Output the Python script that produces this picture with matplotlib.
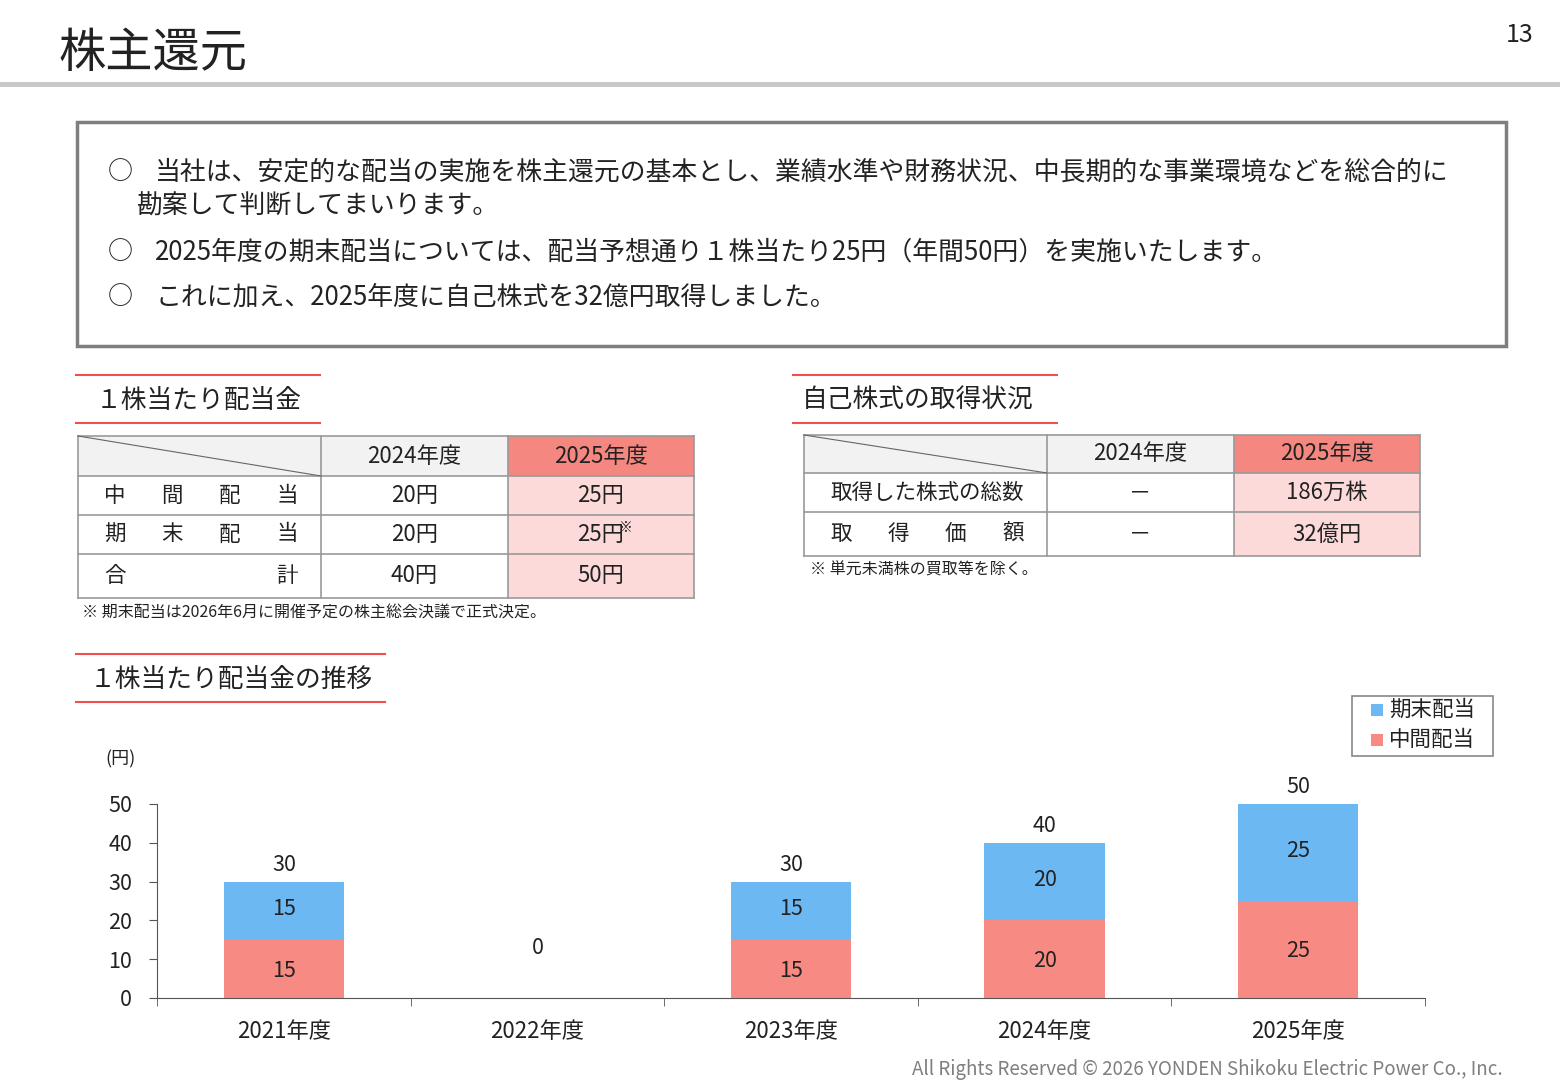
import matplotlib
matplotlib.use("Agg")
import matplotlib.pyplot as plt
from matplotlib.patches import Rectangle
from matplotlib.lines import Line2D

plt.rcParams['font.family'] = ['Noto Sans CJK JP', 'DejaVu Sans']

years = ['2021年度', '2022年度', '2023年度', '2024年度', '2025年度']
interim = [15, 0, 15, 20, 25]
final = [15, 0, 15, 20, 25]
totals = [30, 0, 30, 40, 50]
yticks = [0, 10, 20, 30, 40, 50]

W, H = 1560, 1080
fig = plt.figure(figsize=(15.6, 10.8), dpi=100)
fig.patch.set_facecolor('white')

def fx(x): return x / W
def fy(y): return 1 - y / H

def txt(x, y, s, size, ha='left', va='center', color='#222222', **kw):
    fig.text(fx(x), fy(y), s, fontsize=size, ha=ha, va=va, color=color, **kw)

def line(x0, y0, x1, y1, color='#888888', lw=1.0):
    fig.add_artist(Line2D([fx(x0), fx(x1)], [fy(y0), fy(y1)], color=color, lw=lw, transform=fig.transFigure))

def rect(x0, y0, x1, y1, fc='none', ec='none', lw=1.0):
    fig.add_artist(Rectangle((fx(x0), fy(y1)), fx(x1) - fx(x0), (y1 - y0) / H, facecolor=fc,
                             edgecolor=ec, lw=lw, transform=fig.transFigure))

# Title
txt(58, 54, '株主還元', 34)
txt(1533, 35, '13', 18, ha='right')
rect(0, 82, 1560, 87, fc='#c8c8c8')

# Box
rect(77, 122, 1506, 346, ec='#7f7f7f', lw=2.5)
txt(108, 172, '○', 18)
txt(155, 172, '当社は、安定的な配当の実施を株主還元の基本とし、業績水準や財務状況、中長期的な事業環境などを総合的に', 18.6)
txt(136, 206, '勘案して判断してまいります。', 18.6)
txt(108, 252, '○', 18)
txt(155, 252, '2025年度の期末配当については、配当予想通り１株当たり25円（年間50円）を実施いたします。', 18.6)
txt(108, 297, '○', 18)
txt(155, 297, 'これに加え、2025年度に自己株式を32億円取得しました。', 18.6)

red = '#F0504A'
def section(x0, x1, y, s, tx):
    line(x0, y - 26, x1, y - 26, color=red, lw=1.5)
    line(x0, y + 22, x1, y + 22, color=red, lw=1.5)
    txt(tx, y, s, 18.5)

section(76, 320, 401, '１株当たり配当金', 96)
section(793, 1057, 401, '自己株式の取得状況', 802)
section(76, 385, 680, '１株当たり配当金の推移', 90)

hdr_red = '#F4877F'
pink = '#FCDADA'
grey = '#F2F2F2'
def table(xs, ys, headers, rows):
    rect(xs[0], ys[0], xs[1], ys[1], fc=grey)
    rect(xs[1], ys[0], xs[2], ys[1], fc=grey)
    rect(xs[2], ys[0], xs[3], ys[1], fc=hdr_red)
    for i in range(1, len(ys) - 1):
        rect(xs[2], ys[i], xs[3], ys[i + 1], fc=pink)
    for y in ys:
        line(xs[0], y, xs[3], y, color='#999999', lw=1.2)
    for x in xs:
        line(x, ys[0], x, ys[-1], color='#999999', lw=1.2)
    line(xs[0], ys[0], xs[1], ys[1], color='#666666', lw=0.8)
    txt((xs[1] + xs[2]) / 2, (ys[0] + ys[1]) / 2, headers[0], 16, ha='center')
    txt((xs[2] + xs[3]) / 2, (ys[0] + ys[1]) / 2, headers[1], 16, ha='center')
    for i, (lab, a, b, spread) in enumerate(rows):
        yc = (ys[i + 1] + ys[i + 2]) / 2
        n = len(lab)
        if spread:
            x0, x1 = xs[0] + 37, xs[1] - 34
            for k, ch in enumerate(lab):
                txt(x0 + (x1 - x0) * k / (n - 1), yc, ch, 15.5, ha='center')
        else:
            txt(xs[0] + 26, yc, lab, 15.5)
        txt((xs[1] + xs[2]) / 2, yc, a, 16, ha='center')
        txt((xs[2] + xs[3]) / 2, yc, b, 16, ha='center')

table([78, 321, 508, 694], [436, 476, 515, 554, 598], ['2024年度', '2025年度'],
      [('中間配当', '20円', '25円', True), ('期末配当', '20円', '25円', True), ('合計', '40円', '50円', True)])
txt(619, 528, '※', 10)
txt(82, 613, '※ 期末配当は2026年6月に開催予定の株主総会決議で正式決定。', 11.5)

table([804, 1047, 1234, 1420], [435, 473, 512, 556], ['2024年度', '2025年度'],
      [('取得した株式の総数', '－', '186万株', False), ('取得価額', '－', '32億円', True)])
txt(810, 570, '※ 単元未満株の買取等を除く。', 11.5)

# Chart
ax = fig.add_axes([fx(157), fy(998), (1425 - 157) / W, (998 - 804) / H])
blue = '#6CB8F2'
cred = '#F78B83'
xpos = list(range(len(years)))
bw = 0.475
ax.bar(xpos, interim, bw, color=cred)
ax.bar(xpos, final, bw, bottom=interim, color=blue)
for i in xpos:
    if totals[i] == 0:
        ax.text(i, 13, '0', ha='center', va='center', fontsize=15.5, color='#222222')
        continue
    ax.text(i, interim[i] / 2 - 0.5, str(interim[i]), ha='center', va='center', fontsize=15.5, color='#222222')
    ax.text(i, interim[i] + final[i] / 2 + 0.5, str(final[i]), ha='center', va='center', fontsize=15.5, color='#222222')
    ax.text(i, totals[i] + 1.5, str(totals[i]), ha='center', va='bottom', fontsize=15.5, color='#222222')
ax.set_xlim(-0.5, 4.5)
ax.set_ylim(0, 50)
ax.set_yticks(yticks)
ax.set_yticklabels([str(v) for v in yticks], fontsize=15.5, color='#222222')
ax.set_xticks(xpos)
ax.set_xticklabels(years, fontsize=16, color='#222222')
ax.set_xticks([-0.5 + k for k in range(6)], minor=True)
ax.tick_params(axis='x', which='major', length=0, pad=16)
ax.tick_params(axis='x', which='minor', length=6, color='#555555')
ax.tick_params(axis='y', length=6, color='#555555', pad=12)
for s in ['top', 'right']:
    ax.spines[s].set_visible(False)
ax.spines['left'].set_color('#555555')
ax.spines['bottom'].set_color('#555555')
ax.patch.set_alpha(0)
txt(105, 759, '(円)', 13)

# Legend
rect(1352, 696, 1493, 756, fc='white', ec='#888888', lw=1.2)
rect(1371, 704, 1383, 716, fc=blue)
txt(1389, 710, '期末配当', 15.5)
rect(1371, 734, 1383, 746, fc=cred)
txt(1389, 740, '中間配当', 15.5)

txt(1503, 1070, 'All Rights Reserved © 2026 YONDEN Shikoku Electric Power Co., Inc.', 13.5, ha='right', color='#7f7f7f')

fig.savefig('out.png', dpi=100)
